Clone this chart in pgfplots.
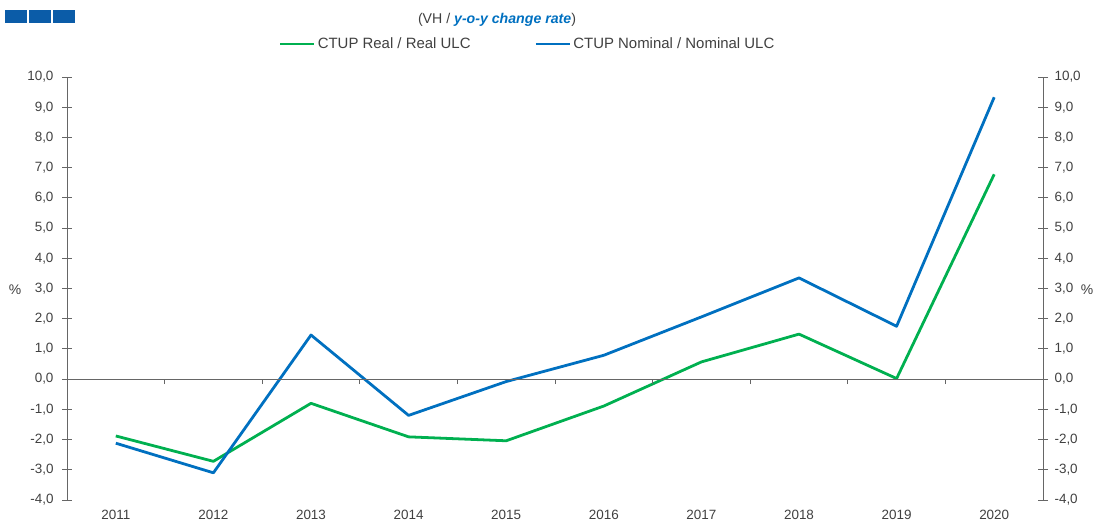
\documentclass[border=0pt]{standalone}
\usepackage{pgfplots}
\pgfplotsset{compat=1.18}
\usepackage{fontspec}
\setmainfont{Liberation Sans}
\definecolor{lgreen}{HTML}{00B050}
\definecolor{lblue}{HTML}{0070C0}
\definecolor{txt}{HTML}{404040}
\definecolor{axc}{HTML}{666666}
\definecolor{sq}{HTML}{0B5CA8}
\pgfplotsset{
  common/.style={
    scale only axis, width=976bp, height=423bp,
    xmin=-0.5, xmax=9.5, ymin=-4, ymax=10,
    ytick={-4,-3,...,10},
    /pgf/number format/.cd, fixed, fixed zerofill, precision=1, use comma, assume math mode=true,
    /pgfplots/.cd,
    ticklabel style={text=txt, font=\fontsize{13.5}{16}\selectfont},
    tick align=center, major tick length=10bp,
    y axis line style={axc, line width=0.9pt, -},
    y tick style={axc, line width=0.9pt},
  }
}
\begin{document}
\begin{tikzpicture}[font=\fontsize{14}{17}\selectfont]
\path[use as bounding box] (-67bp,-24bp) rectangle (1028bp,500bp);
% decorative squares
\fill[sq] (-62bp,477bp) rectangle (-40bp,490bp);
\fill[sq] (-38bp,477bp) rectangle (-16bp,490bp);
\fill[sq] (-14bp,477bp) rectangle (8bp,490bp);
\begin{axis}[common,
  axis y line*=left, axis x line*=bottom,
  x axis line style={draw=none},
  xtick={0,...,9},
  xticklabels={2011,2012,2013,2014,2015,2016,2017,2018,2019,2020},
  x tick style={draw=none},
  xticklabel style={yshift=-2bp},
  yticklabel style={xshift=-5bp},
  legend style={at={(0.472,1.078)}, anchor=center, draw=none, fill=none,
    legend columns=2, text=txt, font=\fontsize{15}{18}\selectfont,
    /tikz/every even column/.append style={column sep=62bp}},
  legend image code/.code={\draw[#1] (0bp,0bp) -- (34bp,0bp);},
]
\addplot[lgreen, line width=2.8pt, line join=round] coordinates {
(0,-1.88) (1,-2.72) (2,-0.80) (3,-1.91) (4,-2.04) (5,-0.89) (6,0.57) (7,1.49) (8,0.02) (9,6.78)};
\addlegendentry{CTUP Real / Real ULC}
\addplot[lblue, line width=2.8pt, line join=round] coordinates {
(0,-2.12) (1,-3.10) (2,1.46) (3,-1.20) (4,-0.08) (5,0.79) (6,2.06) (7,3.35) (8,1.75) (9,9.33)};
\addlegendentry{CTUP Nominal / Nominal ULC}
\end{axis}
\begin{axis}[common,
  axis y line*=right, axis x line=none,
  yticklabel style={xshift=3bp},
]
\end{axis}
\begin{axis}[scale only axis, width=976bp, height=423bp,
  xmin=-0.5, xmax=9.5, ymin=-4, ymax=10,
  axis x line=middle, axis y line=none,
  x axis line style={axc, line width=0.9pt, -},
  xtick={0.5,1.5,...,8.5}, xticklabels={},
  x tick style={axc, line width=0.9pt, yshift=-2.5bp},
  tick align=center, major tick length=5bp,
]
\end{axis}
\node[text=txt, font=\fontsize{14.2}{17}\selectfont] at (430bp,480bp)
  {(VH / \textcolor{lblue}{\textbf{\textit{y-o-y change rate}}})};
\node[text=txt] at (-52bp,210bp) {\%};
\node[text=txt] at (1020bp,210bp) {\%};
\end{tikzpicture}
\end{document}
